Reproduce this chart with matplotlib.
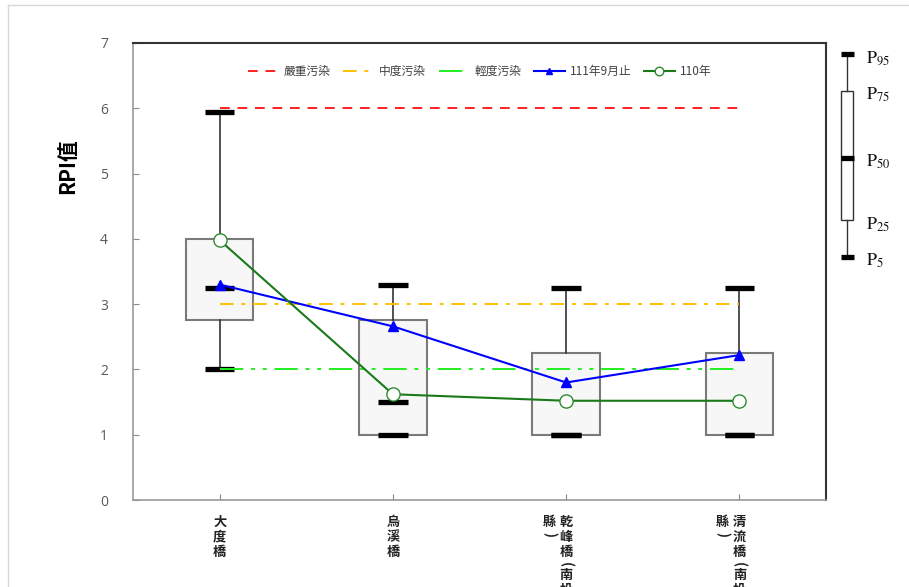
import matplotlib
matplotlib.use("Agg")
import matplotlib.pyplot as plt
from matplotlib.lines import Line2D
from matplotlib.transforms import offset_copy

plt.rcParams['font.family'] = ['Noto Sans CJK TC', 'DejaVu Sans']
plt.rcParams['mathtext.fontset'] = 'stix'

# ---------------- data ----------------
categories = ["大度橋", "烏溪橋", "乾峰橋(南投縣)", "清流橋(南投縣)"]
p5 = [2.0, 1.0, 1.0, 1.0]
p25 = [2.75, 1.0, 1.0, 1.0]
p50 = [3.25, 1.5, 1.0, 1.0]
p75 = [4.0, 2.75, 2.25, 2.25]
p95 = [5.95, 3.3, 3.25, 3.25]
rpi_111 = [3.3, 2.66, 1.8, 2.22]
rpi_110 = [3.98, 1.62, 1.52, 1.52]
thr_severe = 6
thr_moderate = 3
thr_light = 2
y_ticks = [0, 1, 2, 3, 4, 5, 6, 7]
legend_names = ["嚴重污染", "中度污染", "輕度污染", "111年9月止", "110年"]
# schematic legend box (normalized levels)
schem_labels = ["95", "75", "50", "25", "5"]
schem_levels = [1.0, 0.82, 0.49, 0.18, 0.0]

W, H = 909, 587
fig = plt.figure(figsize=(W / 100, H / 100), dpi=100)

def fx(px):
    return px / W

def fy(py):
    return 1 - py / H

# light figure border (top / left)
fig.add_artist(Line2D([fx(8), 1], [fy(5), fy(5)], color="#d9d9d9", lw=1))
fig.add_artist(Line2D([fx(8), fx(8)], [fy(5), 0], color="#d9d9d9", lw=1))

ax = fig.add_axes([fx(133), fy(500), fx(826) - fx(133), fy(43) - fy(500)])
pos = [i + 0.5 for i in range(len(categories))]

stats = []
for i in range(len(categories)):
    stats.append(dict(med=p50[i], q1=p25[i], q3=p75[i], whislo=p5[i], whishi=p95[i], label=""))

ax.bxp(stats, positions=pos, widths=0.39, capwidths=0.17, showfliers=False,
       patch_artist=True,
       boxprops=dict(facecolor="#f7f7f7", edgecolor="#7a7a7a", linewidth=1.5),
       whiskerprops=dict(color="#333333", linewidth=1.2),
       capprops=dict(color="black", linewidth=3.8, solid_capstyle="butt"),
       medianprops=dict(linewidth=0))
ax.hlines(p50, [p - 0.085 for p in pos], [p + 0.085 for p in pos],
          colors="black", linewidth=3.8, zorder=3)

l1, = ax.plot([pos[0], pos[-1]], [thr_severe, thr_severe], color="#ff2020", lw=1.4,
              linestyle=(0, (5, 4)), zorder=4)
l2, = ax.plot([pos[0], pos[-1]], [thr_moderate, thr_moderate], color="#ffc000", lw=1.4,
              linestyle=(0, (7, 4, 2, 4)), zorder=4)
l3, = ax.plot([pos[0], pos[-1]], [thr_light, thr_light], color="#22ee22", lw=1.4,
              linestyle=(0, (12, 4, 2, 4, 2, 4)), zorder=4)
l4, = ax.plot(pos, rpi_111, color="#0000ff", lw=1.5, marker="^", markersize=7.5,
              markerfacecolor="#0000ff", markeredgecolor="#0000ff", zorder=5)
l5, = ax.plot(pos, rpi_110, color="#1a7a1a", lw=1.5, marker="o", markersize=9.5,
              markerfacecolor="white", markeredgecolor="#2e8b2e", zorder=6)

ax.legend([l1, l2, l3, l4, l5], legend_names, loc="upper center",
          bbox_to_anchor=(0.5, 0.975), ncol=5, frameon=False, fontsize=8.5,
          handlelength=2.6, columnspacing=1.1, handletextpad=0.4, markerscale=0.65,
          labelcolor="#404040")

ax.set_xlim(0, len(categories))
ax.set_ylim(0, 7)
ax.set_yticks(y_ticks)
ax.set_yticklabels([str(t) for t in y_ticks], fontfamily="Open Sans", fontsize=10, color="#595959")
ax.set_xticks(pos)
ax.set_xticklabels([])
ax.tick_params(axis="both", direction="in", length=4, color="#888888", pad=14)
ax.tick_params(axis="y", pad=18)
for s in ["left", "bottom"]:
    ax.spines[s].set_color("#999999")
    ax.spines[s].set_linewidth(1.2)
for s in ["top", "right"]:
    ax.spines[s].set_color("#333333")
    ax.spines[s].set_linewidth(1.5)

# vertical category labels (stacked characters, wrapped into columns right-to-left)
trans = ax.get_xaxis_transform()
ncol_chars = 6
for p, name in zip(pos, categories):
    cols = [name[k:k + ncol_chars] for k in range(0, len(name), ncol_chars)]
    for c, col in enumerate(cols):
        ypix = -22.0
        for ch in col:
            is_paren = ch in "()"
            step = 11.0 if is_paren else 14.8
            if is_paren:
                ypix += 2.0
            t = offset_copy(trans, fig=fig, x=-17 * c, y=ypix, units="dots")
            ax.text(p, 0, ch, transform=t, ha="center", va="center",
                    rotation=-90 if is_paren else 0,
                    fontsize=9.5, fontweight="bold", color="#222222")
            ypix -= step

fig.text(fx(68), fy(166), "RPI值", rotation=90, ha="center", va="center",
         fontsize=15, fontweight="bold", color="#000000")

# schematic percentile legend
ax2 = fig.add_axes([fx(830), fy(280), fx(909) - fx(830), fy(40) - fy(280)])
ax2.set_xlim(0, 79)
ax2.set_ylim((257 - 280) / 203, (257 - 40) / 203)
ax2.axis("off")
sl = dict(zip(schem_labels, schem_levels))
ax2.bxp([dict(med=sl["50"], q1=sl["25"], q3=sl["75"], whislo=sl["5"], whishi=sl["95"], label="")],
        positions=[17], widths=12, capwidths=13, showfliers=False, patch_artist=True,
        boxprops=dict(facecolor="white", edgecolor="#333333", linewidth=1),
        whiskerprops=dict(color="#333333", linewidth=1),
        capprops=dict(color="black", linewidth=3.8, solid_capstyle="butt"),
        medianprops=dict(linewidth=0))
ax2.hlines([sl["50"]], [10.5], [23.5], colors="black", linewidth=3.8)
for lab, lev in zip(schem_labels, schem_levels):
    ax2.text(36, lev - 0.02, r"$\mathrm{P}_{%s}$" % lab, ha="left", va="center",
             fontsize=13, color="#111111")

fig.savefig("out.png", dpi=100)
